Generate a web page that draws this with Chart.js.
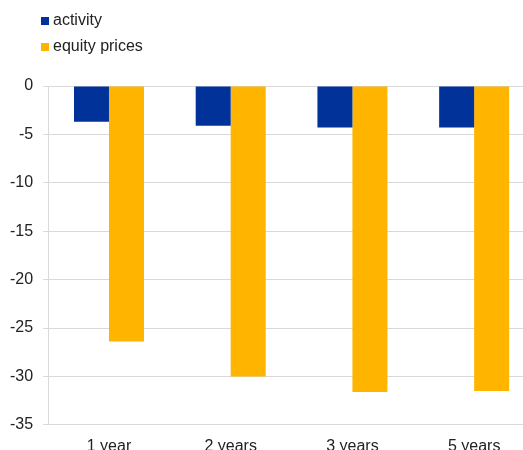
<!DOCTYPE html>
<html>
<head>
<meta charset="utf-8">
<script src="https://cdn.jsdelivr.net/npm/chart.js@4/dist/chart.umd.min.js"></script>
<style>
  body{margin:0;overflow:hidden;background:#fff;font-family:"Liberation Sans",Arial,sans-serif;}
  #wrap{position:relative;width:523px;height:450px;overflow:hidden;}
  #chart{position:absolute;left:0;top:0;}
  #legend{position:absolute;left:41px;top:8px;font-size:16px;color:#222;}
  #legend div{height:26px;line-height:24px;white-space:nowrap;}
  #legend span{display:inline-block;width:8px;height:8px;margin-right:4px;vertical-align:0px;}
</style>
</head>
<body>
<div id="wrap">
  <canvas id="chart" width="560" height="468"></canvas>
  <div id="legend"></div>
</div>
<script>
// Horizons and series
let horizons=["1 year","2 years","3 years","5 years"];
let activity=[-3.7,-4.1,-4.3,-4.3];
let equityPrices=[-26.4,-30.0,-31.6,-31.5];
let yTicks=[0,-5,-10,-15,-20,-25,-30,-35];

let blue="#003299", yellow="#FFB400", grid="#d9d9d9", ink="#222";

let ctx=document.getElementById("chart").getContext("2d");
let chart=new Chart(ctx,{
  type:"bar",
  data:{labels:horizons,datasets:[
    {label:"activity",data:activity,backgroundColor:blue,categoryPercentage:0.575,barPercentage:1},
    {label:"equity prices",data:equityPrices,backgroundColor:yellow,categoryPercentage:0.575,barPercentage:1}
  ]},
  options:{
    responsive:false,animation:false,devicePixelRatio:1,
    layout:{padding:{top:86,right:25,left:0,bottom:0}},
    plugins:{legend:{display:false},tooltip:{enabled:false}},
    font:{family:"'Liberation Sans', Arial, sans-serif",size:16},
    scales:{
      x:{
        grid:{display:false,drawTicks:false},
        border:{color:grid},
        ticks:{color:ink,padding:12,font:{size:16}}
      },
      y:{
        min:-35,max:0,
        afterBuildTicks:s=>{s.ticks=yTicks.map(v=>({value:v}));},
        grid:{color:grid,tickLength:5,lineWidth:1},
        border:{color:grid},
        ticks:{color:ink,padding:10,font:{size:16}}
      }
    }
  }
});

// Legend built from the datasets
let lg=document.getElementById("legend");
chart.data.datasets.forEach(d=>{
  let row=document.createElement("div");
  row.innerHTML='<span style="background:'+d.backgroundColor+'"></span>'+d.label;
  lg.appendChild(row);
});
</script>
</body>
</html>
